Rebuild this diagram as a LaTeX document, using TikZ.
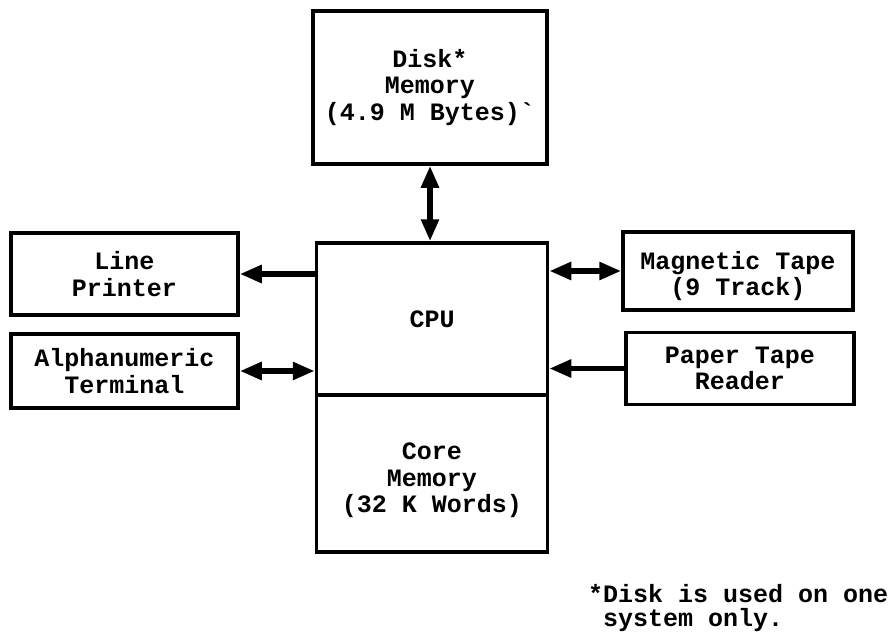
\documentclass[tikz,border=0pt]{standalone}
\usepackage{fontspec}
\setmainfont{Liberation Mono}[BoldFont={Liberation Mono Bold}]
\usetikzlibrary{arrows.meta}
\tikzset{
  boxfont/.style={font=\fontsize{25}{26.5}\selectfont\bfseries, align=center},
  box/.style={draw, line width=3.5pt, rectangle, inner sep=0pt, boxfont},
  tip/.style={Triangle[length=22pt,width=17pt]},
  link/.style={line width=5.5pt, {Triangle[length=22pt,width=17pt]}-{Triangle[length=22pt,width=17pt]}},
  linkto/.style={line width=5.5pt, -{Triangle[length=22pt,width=17pt]}},
}
\begin{document}
\begin{tikzpicture}[x=1pt,y=-1pt]
\useasboundingbox (0,0) rectangle (895,632);
\node[box, minimum width=234pt, minimum height=153pt] (disk) at (430,87.5) {Disk*\\Memory\\(4.9 M Bytes)\textasciigrave};
\node[box, minimum width=231pt, minimum height=152pt] (cpu) at (432,319) {CPU};
\node[box, minimum width=231pt, minimum height=157pt,
  label={[boxfont, yshift=-7pt]center:Core\\Memory\\(32 K Words)}] (core) at (432,473.5) {};
\node[box, minimum width=227pt, minimum height=82pt] (printer) at (124.5,274) {Line\\Printer};
\node[box, minimum width=227pt, minimum height=74pt] (alpha) at (124.5,371) {Alphanumeric\\Terminal};
\node[box, minimum width=230pt, minimum height=78pt,
  label={[boxfont, yshift=-5pt]center:Magnetic Tape\\(9 Track)}] (mag) at (738,271) {};
\node[box, minimum width=228pt, minimum height=72pt] (paper) at (740,368.5) {Paper Tape\\Reader};
\node[anchor=north west, align=left, inner sep=0pt,
  font=\fontsize{25}{24}\selectfont\bfseries] (note) at (588,584) {*Disk is used on one\\\hspace*{0.6em}system only.};
\draw[link] (disk.south) -- (disk.south |- cpu.north);
\draw[linkto] (printer.east -| cpu.west) -- (printer.east);
\draw[link] (alpha.east) -- (alpha.east -| cpu.west);
\draw[link] (cpu.east |- mag.west) -- (mag.west);
\draw[linkto] (paper.west) -- (paper.west -| cpu.east);
\end{tikzpicture}
\end{document}
